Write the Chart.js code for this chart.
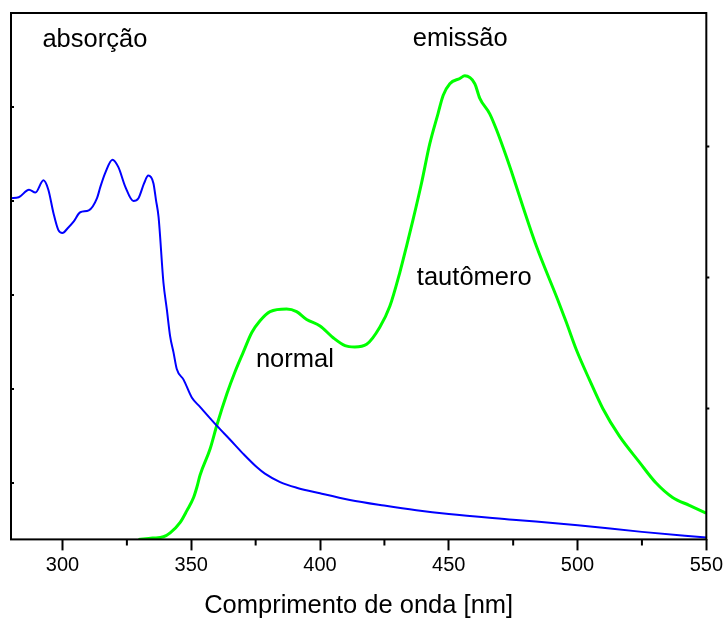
<!DOCTYPE html>
<html>
<head>
<meta charset="utf-8">
<script src="https://cdn.jsdelivr.net/npm/chart.js@4.4.1/dist/chart.umd.min.js"></script>
<style>
  html, body { margin: 0; padding: 0; background: #fff; }
</style>
</head>
<body>
<canvas id="spectra" width="726" height="621"></canvas>
<script>
// absorption spectrum (left axis, arbitrary units)
const absNm = [280, 283, 287, 289.5, 292.6, 294.5, 296.5, 298.4, 300, 302, 304.3, 306.9, 310.2, 313.4, 314.7,
  316.6, 319.4, 321.7, 324.4, 327.5, 329.5, 331.7, 333.3, 335.3, 336.3, 337.3, 339.2, 340.5, 341.8, 343.1,
  344.4, 347, 350.2, 353.4, 359.9, 365.1, 370.2, 375.4, 378.6, 384.5, 390.9, 400, 411.6, 424.9, 437.4,
  450, 474.9, 500.1, 525, 550];
const absVal = [3.03, 3.04, 3.12, 3.09, 3.22, 3.12, 2.87, 2.69, 2.66, 2.71, 2.78, 2.88, 2.90, 3.03, 3.15,
  3.30, 3.44, 3.36, 3.15, 3.00, 3.03, 3.19, 3.27, 3.19, 3.01, 2.83, 2.13, 1.85, 1.56, 1.39,
  1.21, 1.10, 0.91, 0.81, 0.61, 0.46, 0.31, 0.17, 0.10, 0.01, -0.05, -0.11, -0.18, -0.24, -0.29,
  -0.33, -0.39, -0.45, -0.52, -0.58];

// emission spectrum (right axis, arbitrary units)
const emNm = [329.5, 335, 339.2, 341.8, 345.7, 348.3, 350.9, 352.2, 353.4, 357.3, 359.9, 363.8, 367, 370.2,
  373.5, 376.7, 380.6, 387, 390.9, 394.8, 400, 405.1, 409.7, 413.5, 418.1, 423.2, 427.1, 431, 433.6,
  436.1, 439.4, 442.6, 445.8, 447.8, 450.4, 454.3, 456.2, 460.1, 462, 465.9, 468.5, 472.4, 475, 478.8,
  484, 492.3, 495.6, 499.5, 504.6, 509.8, 516.2, 524, 530.5, 536.9, 543.4, 549.9];
const emVal = [0.00, 0.01, 0.02, 0.05, 0.13, 0.22, 0.32, 0.40, 0.49, 0.69, 0.87, 1.11, 1.28, 1.43,
  1.58, 1.67, 1.74, 1.76, 1.74, 1.68, 1.63, 1.54, 1.48, 1.47, 1.49, 1.62, 1.78, 2.04, 2.24,
  2.44, 2.72, 3.02, 3.25, 3.39, 3.48, 3.52, 3.54, 3.48, 3.37, 3.25, 3.13, 2.92, 2.77, 2.54,
  2.24, 1.83, 1.66, 1.45, 1.22, 1.00, 0.79, 0.59, 0.43, 0.32, 0.26, 0.20];

const leftTicks = [0, 1, 2, 3, 4];
const rightTicks = [1, 2, 3];

const fontFamily = '"Liberation Sans", Arial, Helvetica, sans-serif';

// frame, small axis ticks and the text notes inside the plot
const framePlugin = {
  id: 'framePlugin',
  afterDraw(chart) {
    const ctx = chart.ctx;
    const area = chart.chartArea;
    const xs = chart.scales.x, yl = chart.scales.y, yr = chart.scales.y2;
    ctx.save();
    ctx.strokeStyle = '#000';
    ctx.lineWidth = 2;
    ctx.strokeRect(area.left, area.top, area.right - area.left, area.bottom - area.top);

    ctx.beginPath();
    xs.ticks.forEach(t => {
      if (t.value % 50 !== 0) {
        const px = xs.getPixelForValue(t.value);
        ctx.moveTo(px, area.bottom);
        ctx.lineTo(px, area.bottom + 6);
      }
    });
    leftTicks.forEach(v => {
      const py = yl.getPixelForValue(v);
      ctx.moveTo(area.left, py);
      ctx.lineTo(area.left + 3, py);
    });
    rightTicks.forEach(v => {
      const py = yr.getPixelForValue(v);
      ctx.moveTo(area.right, py);
      ctx.lineTo(area.right + 3, py);
    });
    ctx.stroke();

    ctx.fillStyle = '#000';
    ctx.font = '25.5px ' + fontFamily;
    ctx.textBaseline = 'alphabetic';
    ctx.fillText('absorção', xs.getPixelForValue(292.2), yr.getPixelForValue(3.76));
    ctx.fillText('emissão', xs.getPixelForValue(436), yr.getPixelForValue(3.77));
    ctx.fillText('normal', xs.getPixelForValue(375.1), yr.getPixelForValue(1.32));
    ctx.fillText('tautômero', xs.getPixelForValue(437.6), yr.getPixelForValue(1.94));
    ctx.restore();
  }
};

const ctx = document.getElementById('spectra').getContext('2d');
new Chart(ctx, {
  type: 'line',
  data: {
    datasets: [
      {
        label: 'absorção',
        data: absNm.map((x, i) => ({ x: x, y: absVal[i] })),
        borderColor: '#0000ff',
        borderWidth: 2,
        pointRadius: 0,
        cubicInterpolationMode: 'monotone',
        yAxisID: 'y'
      },
      {
        label: 'emissão',
        data: emNm.map((x, i) => ({ x: x, y: emVal[i] })),
        borderColor: '#00ff00',
        borderWidth: 3,
        pointRadius: 0,
        cubicInterpolationMode: 'monotone',
        yAxisID: 'y2'
      }
    ]
  },
  options: {
    responsive: false,
    animation: false,
    layout: { padding: { left: 11, right: 19, top: 13, bottom: 0 } },
    plugins: {
      legend: { display: false },
      tooltip: { enabled: false }
    },
    scales: {
      x: {
        type: 'linear',
        min: 280,
        max: 550,
        border: { display: false },
        grid: {
          drawOnChartArea: false,
          tickLength: 11,
          tickWidth: 2,
          tickColor: c => (c.tick && c.tick.value % 50 === 0 ? '#000' : 'rgba(0,0,0,0)')
        },
        ticks: {
          stepSize: 25,
          includeBounds: false,
          autoSkip: false,
          maxRotation: 0,
          padding: 3,
          color: '#000',
          font: { family: fontFamily, size: 20 },
          callback: v => (v % 50 === 0 ? v : '')
        },
        title: {
          display: true,
          text: 'Comprimento de onda [nm]',
          color: '#000',
          font: { family: fontFamily, size: 25.5 },
          padding: { top: 10, bottom: 0 }
        }
      },
      y: { display: false, min: -0.6, max: 5.0 },
      y2: { display: false, min: 0, max: 4.02 }
    }
  },
  plugins: [framePlugin]
});
</script>
</body>
</html>
